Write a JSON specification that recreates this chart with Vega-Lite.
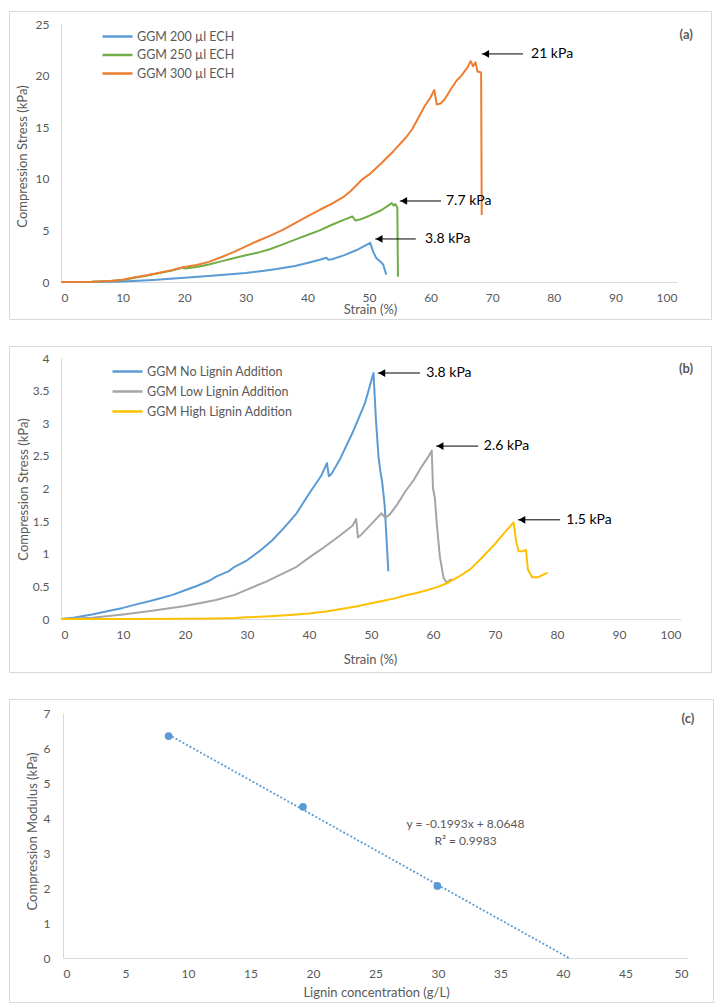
{
  "$schema": "https://vega.github.io/schema/vega-lite/v6.json",
  "padding": {"left": 8, "top": 10, "right": 4, "bottom": 4},
  "spacing": 25,
  "config": {
    "font": "Lato",
    "view": {"stroke": "#d9d9d9", "strokeWidth": 1},
    "axis": {"grid": false, "ticks": false, "tickSize": 0, "domainColor": "#d9d9d9", "domainWidth": 1, "labelColor": "#595959", "titleColor": "#595959", "labelFontSize": 12, "titleFontSize": 13, "titleFontWeight": "normal", "labelFont": "Lato", "titleFont": "Lato"},
    "legend": {"labelFont": "Lato", "labelFontSize": 12.5, "labelColor": "#595959"}
  },
  "resolve": {"scale": {"color": "independent"}, "legend": {"color": "independent"}},
  "datasets": {
    "a": [
      {"s":0,"v":0,"c":"GGM 200 µl ECH"},{"s":5,"v":0.01,"c":"GGM 200 µl ECH"},{"s":10,"v":0.05,"c":"GGM 200 µl ECH"},{"s":15,"v":0.2,"c":"GGM 200 µl ECH"},{"s":20,"v":0.4,"c":"GGM 200 µl ECH"},{"s":25,"v":0.62,"c":"GGM 200 µl ECH"},{"s":30,"v":0.88,"c":"GGM 200 µl ECH"},{"s":33,"v":1.08,"c":"GGM 200 µl ECH"},{"s":35,"v":1.25,"c":"GGM 200 µl ECH"},{"s":38,"v":1.55,"c":"GGM 200 µl ECH"},{"s":40,"v":1.85,"c":"GGM 200 µl ECH"},{"s":42,"v":2.15,"c":"GGM 200 µl ECH"},{"s":43.1,"v":2.35,"c":"GGM 200 µl ECH"},{"s":43.4,"v":2.15,"c":"GGM 200 µl ECH"},{"s":44,"v":2.2,"c":"GGM 200 µl ECH"},{"s":46,"v":2.6,"c":"GGM 200 µl ECH"},{"s":48,"v":3.1,"c":"GGM 200 µl ECH"},{"s":50.2,"v":3.8,"c":"GGM 200 µl ECH"},{"s":50.7,"v":2.9,"c":"GGM 200 µl ECH"},{"s":51.2,"v":2.3,"c":"GGM 200 µl ECH"},{"s":51.8,"v":2.0,"c":"GGM 200 µl ECH"},{"s":52.3,"v":1.7,"c":"GGM 200 µl ECH"},{"s":52.8,"v":0.7,"c":"GGM 200 µl ECH"},
      {"s":0,"v":0,"c":"GGM 250 µl ECH"},{"s":5,"v":0.03,"c":"GGM 250 µl ECH"},{"s":8,"v":0.1,"c":"GGM 250 µl ECH"},{"s":10,"v":0.2,"c":"GGM 250 µl ECH"},{"s":12,"v":0.42,"c":"GGM 250 µl ECH"},{"s":14,"v":0.62,"c":"GGM 250 µl ECH"},{"s":16,"v":0.88,"c":"GGM 250 µl ECH"},{"s":18,"v":1.12,"c":"GGM 250 µl ECH"},{"s":19.8,"v":1.4,"c":"GGM 250 µl ECH"},{"s":20.2,"v":1.3,"c":"GGM 250 µl ECH"},{"s":22,"v":1.45,"c":"GGM 250 µl ECH"},{"s":24,"v":1.7,"c":"GGM 250 µl ECH"},{"s":26,"v":2.0,"c":"GGM 250 µl ECH"},{"s":28,"v":2.3,"c":"GGM 250 µl ECH"},{"s":30,"v":2.6,"c":"GGM 250 µl ECH"},{"s":32,"v":2.85,"c":"GGM 250 µl ECH"},{"s":34,"v":3.2,"c":"GGM 250 µl ECH"},{"s":36,"v":3.65,"c":"GGM 250 µl ECH"},{"s":38,"v":4.1,"c":"GGM 250 µl ECH"},{"s":40,"v":4.55,"c":"GGM 250 µl ECH"},{"s":42,"v":5.0,"c":"GGM 250 µl ECH"},{"s":44,"v":5.55,"c":"GGM 250 µl ECH"},{"s":46,"v":6.05,"c":"GGM 250 µl ECH"},{"s":47.3,"v":6.35,"c":"GGM 250 µl ECH"},{"s":47.8,"v":5.95,"c":"GGM 250 µl ECH"},{"s":48.5,"v":6.05,"c":"GGM 250 µl ECH"},{"s":50,"v":6.4,"c":"GGM 250 µl ECH"},{"s":52,"v":6.95,"c":"GGM 250 µl ECH"},{"s":53.7,"v":7.65,"c":"GGM 250 µl ECH"},{"s":54.0,"v":7.4,"c":"GGM 250 µl ECH"},{"s":54.3,"v":7.55,"c":"GGM 250 µl ECH"},{"s":54.6,"v":7.2,"c":"GGM 250 µl ECH"},{"s":54.7,"v":0.5,"c":"GGM 250 µl ECH"},
      {"s":0,"v":0,"c":"GGM 300 µl ECH"},{"s":5,"v":0.03,"c":"GGM 300 µl ECH"},{"s":8,"v":0.1,"c":"GGM 300 µl ECH"},{"s":10,"v":0.22,"c":"GGM 300 µl ECH"},{"s":12,"v":0.45,"c":"GGM 300 µl ECH"},{"s":14,"v":0.65,"c":"GGM 300 µl ECH"},{"s":16,"v":0.9,"c":"GGM 300 µl ECH"},{"s":18,"v":1.15,"c":"GGM 300 µl ECH"},{"s":20,"v":1.45,"c":"GGM 300 µl ECH"},{"s":22,"v":1.65,"c":"GGM 300 µl ECH"},{"s":24,"v":1.95,"c":"GGM 300 µl ECH"},{"s":26,"v":2.4,"c":"GGM 300 µl ECH"},{"s":28,"v":2.9,"c":"GGM 300 µl ECH"},{"s":30,"v":3.45,"c":"GGM 300 µl ECH"},{"s":32,"v":4.0,"c":"GGM 300 µl ECH"},{"s":34,"v":4.5,"c":"GGM 300 µl ECH"},{"s":36,"v":5.05,"c":"GGM 300 µl ECH"},{"s":38,"v":5.7,"c":"GGM 300 µl ECH"},{"s":40,"v":6.35,"c":"GGM 300 µl ECH"},{"s":42,"v":7.0,"c":"GGM 300 µl ECH"},{"s":44,"v":7.6,"c":"GGM 300 µl ECH"},{"s":46,"v":8.3,"c":"GGM 300 µl ECH"},{"s":47,"v":8.8,"c":"GGM 300 µl ECH"},{"s":48,"v":9.4,"c":"GGM 300 µl ECH"},{"s":49,"v":10.0,"c":"GGM 300 µl ECH"},{"s":50,"v":10.4,"c":"GGM 300 µl ECH"},{"s":52,"v":11.5,"c":"GGM 300 µl ECH"},{"s":54,"v":12.7,"c":"GGM 300 µl ECH"},{"s":56,"v":14.0,"c":"GGM 300 µl ECH"},{"s":57,"v":14.8,"c":"GGM 300 µl ECH"},{"s":58,"v":15.9,"c":"GGM 300 µl ECH"},{"s":59,"v":17.0,"c":"GGM 300 µl ECH"},{"s":60,"v":17.9,"c":"GGM 300 µl ECH"},{"s":60.6,"v":18.6,"c":"GGM 300 µl ECH"},{"s":61.0,"v":17.2,"c":"GGM 300 µl ECH"},{"s":61.6,"v":17.3,"c":"GGM 300 µl ECH"},{"s":62.3,"v":17.7,"c":"GGM 300 µl ECH"},{"s":63.2,"v":18.6,"c":"GGM 300 µl ECH"},{"s":64.2,"v":19.5,"c":"GGM 300 µl ECH"},{"s":65.0,"v":20.0,"c":"GGM 300 µl ECH"},{"s":66.0,"v":20.8,"c":"GGM 300 µl ECH"},{"s":66.5,"v":21.4,"c":"GGM 300 µl ECH"},{"s":66.9,"v":20.9,"c":"GGM 300 µl ECH"},{"s":67.3,"v":21.3,"c":"GGM 300 µl ECH"},{"s":67.6,"v":20.4,"c":"GGM 300 µl ECH"},{"s":68.2,"v":20.3,"c":"GGM 300 µl ECH"},{"s":68.3,"v":6.5,"c":"GGM 300 µl ECH"}
    ],
    "annA": [{"s":68.3,"s2":75.0,"v":22.1},{"s":55.0,"s2":61.7,"v":7.85},{"s":51.0,"s2":57.6,"v":4.17}],
    "txtA": [{"s":76.3,"v":22.1,"t":"21 kPa"},{"s":62.5,"v":7.85,"t":"7.7 kPa"},{"s":59.1,"v":4.17,"t":"3.8 kPa"}],
    "labA": [{"s":101.5,"v":23.9,"t":"(a)"}],
    "b": [
      {"s":0,"v":0,"c":"GGM No Lignin Addition"},{"s":2,"v":0.02,"c":"GGM No Lignin Addition"},{"s":5,"v":0.07,"c":"GGM No Lignin Addition"},{"s":8,"v":0.13,"c":"GGM No Lignin Addition"},{"s":10,"v":0.17,"c":"GGM No Lignin Addition"},{"s":12,"v":0.22,"c":"GGM No Lignin Addition"},{"s":15,"v":0.29,"c":"GGM No Lignin Addition"},{"s":18,"v":0.37,"c":"GGM No Lignin Addition"},{"s":20,"v":0.44,"c":"GGM No Lignin Addition"},{"s":22,"v":0.51,"c":"GGM No Lignin Addition"},{"s":24,"v":0.59,"c":"GGM No Lignin Addition"},{"s":25,"v":0.65,"c":"GGM No Lignin Addition"},{"s":27,"v":0.73,"c":"GGM No Lignin Addition"},{"s":28,"v":0.8,"c":"GGM No Lignin Addition"},{"s":30,"v":0.9,"c":"GGM No Lignin Addition"},{"s":32,"v":1.04,"c":"GGM No Lignin Addition"},{"s":34,"v":1.2,"c":"GGM No Lignin Addition"},{"s":36,"v":1.4,"c":"GGM No Lignin Addition"},{"s":38,"v":1.62,"c":"GGM No Lignin Addition"},{"s":40,"v":1.92,"c":"GGM No Lignin Addition"},{"s":42,"v":2.2,"c":"GGM No Lignin Addition"},{"s":42.9,"v":2.39,"c":"GGM No Lignin Addition"},{"s":43.2,"v":2.19,"c":"GGM No Lignin Addition"},{"s":43.6,"v":2.22,"c":"GGM No Lignin Addition"},{"s":45,"v":2.45,"c":"GGM No Lignin Addition"},{"s":47,"v":2.85,"c":"GGM No Lignin Addition"},{"s":49,"v":3.3,"c":"GGM No Lignin Addition"},{"s":50.4,"v":3.77,"c":"GGM No Lignin Addition"},{"s":50.8,"v":3.05,"c":"GGM No Lignin Addition"},{"s":51.2,"v":2.5,"c":"GGM No Lignin Addition"},{"s":51.5,"v":2.27,"c":"GGM No Lignin Addition"},{"s":51.8,"v":2.1,"c":"GGM No Lignin Addition"},{"s":52.2,"v":1.75,"c":"GGM No Lignin Addition"},{"s":52.8,"v":0.73,"c":"GGM No Lignin Addition"},
      {"s":0,"v":0,"c":"GGM Low Lignin Addition"},{"s":5,"v":0.02,"c":"GGM Low Lignin Addition"},{"s":10,"v":0.07,"c":"GGM Low Lignin Addition"},{"s":15,"v":0.13,"c":"GGM Low Lignin Addition"},{"s":20,"v":0.2,"c":"GGM Low Lignin Addition"},{"s":25,"v":0.29,"c":"GGM Low Lignin Addition"},{"s":28,"v":0.37,"c":"GGM Low Lignin Addition"},{"s":30,"v":0.45,"c":"GGM Low Lignin Addition"},{"s":33,"v":0.57,"c":"GGM Low Lignin Addition"},{"s":35,"v":0.66,"c":"GGM Low Lignin Addition"},{"s":38,"v":0.8,"c":"GGM Low Lignin Addition"},{"s":40,"v":0.94,"c":"GGM Low Lignin Addition"},{"s":42,"v":1.07,"c":"GGM Low Lignin Addition"},{"s":45,"v":1.28,"c":"GGM Low Lignin Addition"},{"s":47,"v":1.43,"c":"GGM Low Lignin Addition"},{"s":47.6,"v":1.53,"c":"GGM Low Lignin Addition"},{"s":47.9,"v":1.25,"c":"GGM Low Lignin Addition"},{"s":48.5,"v":1.3,"c":"GGM Low Lignin Addition"},{"s":50,"v":1.45,"c":"GGM Low Lignin Addition"},{"s":51.7,"v":1.62,"c":"GGM Low Lignin Addition"},{"s":52.3,"v":1.55,"c":"GGM Low Lignin Addition"},{"s":53,"v":1.6,"c":"GGM Low Lignin Addition"},{"s":54.2,"v":1.75,"c":"GGM Low Lignin Addition"},{"s":55.5,"v":1.95,"c":"GGM Low Lignin Addition"},{"s":56.9,"v":2.13,"c":"GGM Low Lignin Addition"},{"s":58.2,"v":2.34,"c":"GGM Low Lignin Addition"},{"s":59.2,"v":2.48,"c":"GGM Low Lignin Addition"},{"s":59.8,"v":2.58,"c":"GGM Low Lignin Addition"},{"s":60.0,"v":2.0,"c":"GGM Low Lignin Addition"},{"s":60.3,"v":1.85,"c":"GGM Low Lignin Addition"},{"s":60.6,"v":1.47,"c":"GGM Low Lignin Addition"},{"s":61.1,"v":0.96,"c":"GGM Low Lignin Addition"},{"s":61.7,"v":0.63,"c":"GGM Low Lignin Addition"},{"s":62.2,"v":0.56,"c":"GGM Low Lignin Addition"},{"s":62.8,"v":0.6,"c":"GGM Low Lignin Addition"},{"s":63.3,"v":0.6,"c":"GGM Low Lignin Addition"},
      {"s":0,"v":0,"c":"GGM High Lignin Addition"},{"s":10,"v":0,"c":"GGM High Lignin Addition"},{"s":20,"v":0.003,"c":"GGM High Lignin Addition"},{"s":25,"v":0.008,"c":"GGM High Lignin Addition"},{"s":28,"v":0.015,"c":"GGM High Lignin Addition"},{"s":30,"v":0.025,"c":"GGM High Lignin Addition"},{"s":33,"v":0.04,"c":"GGM High Lignin Addition"},{"s":35,"v":0.05,"c":"GGM High Lignin Addition"},{"s":38,"v":0.07,"c":"GGM High Lignin Addition"},{"s":40,"v":0.085,"c":"GGM High Lignin Addition"},{"s":43,"v":0.12,"c":"GGM High Lignin Addition"},{"s":45,"v":0.15,"c":"GGM High Lignin Addition"},{"s":48,"v":0.2,"c":"GGM High Lignin Addition"},{"s":50,"v":0.24,"c":"GGM High Lignin Addition"},{"s":52,"v":0.28,"c":"GGM High Lignin Addition"},{"s":54,"v":0.32,"c":"GGM High Lignin Addition"},{"s":55.5,"v":0.36,"c":"GGM High Lignin Addition"},{"s":57,"v":0.39,"c":"GGM High Lignin Addition"},{"s":59,"v":0.44,"c":"GGM High Lignin Addition"},{"s":61,"v":0.5,"c":"GGM High Lignin Addition"},{"s":62.5,"v":0.56,"c":"GGM High Lignin Addition"},{"s":64,"v":0.64,"c":"GGM High Lignin Addition"},{"s":66,"v":0.76,"c":"GGM High Lignin Addition"},{"s":68,"v":0.95,"c":"GGM High Lignin Addition"},{"s":70,"v":1.15,"c":"GGM High Lignin Addition"},{"s":71.5,"v":1.32,"c":"GGM High Lignin Addition"},{"s":73,"v":1.48,"c":"GGM High Lignin Addition"},{"s":73.4,"v":1.2,"c":"GGM High Lignin Addition"},{"s":73.8,"v":1.04,"c":"GGM High Lignin Addition"},{"s":74.5,"v":1.04,"c":"GGM High Lignin Addition"},{"s":75.0,"v":1.06,"c":"GGM High Lignin Addition"},{"s":75.3,"v":0.76,"c":"GGM High Lignin Addition"},{"s":76.0,"v":0.64,"c":"GGM High Lignin Addition"},{"s":77.0,"v":0.64,"c":"GGM High Lignin Addition"},{"s":77.8,"v":0.68,"c":"GGM High Lignin Addition"},{"s":78.5,"v":0.71,"c":"GGM High Lignin Addition"}
    ],
    "annB": [{"s":51.1,"s2":57.9,"v":3.77},{"s":60.5,"s2":67.3,"v":2.65},{"s":73.7,"s2":80.5,"v":1.52}],
    "txtB": [{"s":58.9,"v":3.77,"t":"3.8 kPa"},{"s":68.2,"v":2.65,"t":"2.6 kPa"},{"s":81.5,"v":1.52,"t":"1.5 kPa"}],
    "labB": [{"s":100.8,"v":3.83,"t":"(b)"}],
    "c": [{"x":8.45,"y":6.34},{"x":19.2,"y":4.32},{"x":29.95,"y":2.06}],
    "trend": [{"x":8.45,"y":6.38},{"x":40.47,"y":0}],
    "txtC": [{"x":32.2,"y":3.83,"t":"y = -0.1993x + 8.0648"},{"x":32.2,"y":3.34,"t":"R² = 0.9983"}],
    "labC": [{"x":50.0,"y":6.83,"t":"(c)"}]
  },
  "vconcat": [
    {
      "width": 702, "height": 308,
      "layer": [
        {
          "data": {"name": "a"},
          "mark": {"type": "line", "strokeWidth": 2, "strokeJoin": "round"},
          "encoding": {
            "x": {"field": "s", "type": "quantitative", "title": "Strain (%)",
                  "scale": {"domain": [0, 100], "range": [52, 668], "nice": false, "zero": false},
                  "axis": {"values": [0,10,20,30,40,50,60,70,80,90,100], "offset": -37, "labelPadding": 10, "titleX": 361, "titleY": 27, "titleBaseline": "middle"}},
            "y": {"field": "v", "type": "quantitative", "title": "Compression Stress (kPa)",
                  "scale": {"domain": [0, 25], "range": [271, 13], "nice": false, "zero": false},
                  "axis": {"values": [0,5,10,15,20,25], "offset": -52, "labelPadding": 12, "titleX": -39, "titleY": 145, "titleBaseline": "middle"}},
            "color": {"field": "c", "type": "nominal",
                      "scale": {"domain": ["GGM 200 µl ECH", "GGM 250 µl ECH", "GGM 300 µl ECH"], "range": ["#5B9BD5", "#70AD47", "#ED7D31"]},
                      "legend": {"orient": "none", "legendX": 102, "legendY": 19, "title": null, "symbolType": "M-3,0H3", "symbolSize": 100, "symbolStrokeWidth": 2.5, "labelOffset": 13, "rowPadding": 5.5, "padding": 0}}
          }
        },
        {
          "data": {"name": "annA"},
          "mark": {"type": "rule", "color": "#000000", "strokeWidth": 1},
          "encoding": {"x": {"field": "s", "type": "quantitative"}, "x2": {"field": "s2"}, "y": {"field": "v", "type": "quantitative"}}
        },
        {
          "data": {"name": "annA"},
          "mark": {"type": "point", "shape": "triangle-left", "filled": true, "color": "#000000", "opacity": 1, "size": 60, "xOffset": 4},
          "encoding": {"x": {"field": "s", "type": "quantitative"}, "y": {"field": "v", "type": "quantitative"}}
        },
        {
          "data": {"name": "txtA"},
          "mark": {"type": "text", "align": "left", "baseline": "middle", "fontSize": 14, "color": "#000000"},
          "encoding": {"x": {"field": "s", "type": "quantitative"}, "y": {"field": "v", "type": "quantitative"}, "text": {"field": "t"}}
        },
        {
          "data": {"name": "labA"},
          "mark": {"type": "text", "align": "center", "baseline": "middle", "fontSize": 13, "fontWeight": "bold", "color": "#595959"},
          "encoding": {"x": {"field": "s", "type": "quantitative"}, "y": {"field": "v", "type": "quantitative"}, "text": {"field": "t"}}
        }
      ]
    },
    {
      "width": 702, "height": 326,
      "layer": [
        {
          "data": {"name": "b"},
          "mark": {"type": "line", "strokeWidth": 2, "strokeJoin": "round"},
          "encoding": {
            "x": {"field": "s", "type": "quantitative", "title": "Strain (%)",
                  "scale": {"domain": [0, 100], "range": [52, 672], "nice": false, "zero": false},
                  "axis": {"values": [0,10,20,30,40,50,60,70,80,90,100], "offset": -53, "labelPadding": 10, "titleX": 361, "titleY": 40, "titleBaseline": "middle"}},
            "y": {"field": "v", "type": "quantitative", "title": "Compression Stress (kPa)",
                  "scale": {"domain": [0, 4], "range": [273, 12], "nice": false, "zero": false},
                  "axis": {"values": [0,0.5,1,1.5,2,2.5,3,3.5,4], "format": "~g", "offset": -52, "labelPadding": 12, "titleX": -38, "titleY": 143, "titleBaseline": "middle"}},
            "color": {"field": "c", "type": "nominal",
                      "scale": {"domain": ["GGM No Lignin Addition", "GGM Low Lignin Addition", "GGM High Lignin Addition"], "range": ["#5B9BD5", "#A5A5A5", "#FFC000"]},
                      "legend": {"orient": "none", "legendX": 112, "legendY": 19, "title": null, "symbolType": "M-3,0H3", "symbolSize": 100, "symbolStrokeWidth": 2.5, "labelOffset": 13, "rowPadding": 7, "padding": 0}}
          }
        },
        {
          "data": {"name": "annB"},
          "mark": {"type": "rule", "color": "#000000", "strokeWidth": 1},
          "encoding": {"x": {"field": "s", "type": "quantitative"}, "x2": {"field": "s2"}, "y": {"field": "v", "type": "quantitative"}}
        },
        {
          "data": {"name": "annB"},
          "mark": {"type": "point", "shape": "triangle-left", "filled": true, "color": "#000000", "opacity": 1, "size": 60, "xOffset": 4},
          "encoding": {"x": {"field": "s", "type": "quantitative"}, "y": {"field": "v", "type": "quantitative"}}
        },
        {
          "data": {"name": "txtB"},
          "mark": {"type": "text", "align": "left", "baseline": "middle", "fontSize": 14, "color": "#000000"},
          "encoding": {"x": {"field": "s", "type": "quantitative"}, "y": {"field": "v", "type": "quantitative"}, "text": {"field": "t"}}
        },
        {
          "data": {"name": "labB"},
          "mark": {"type": "text", "align": "center", "baseline": "middle", "fontSize": 13, "fontWeight": "bold", "color": "#595959"},
          "encoding": {"x": {"field": "s", "type": "quantitative"}, "y": {"field": "v", "type": "quantitative"}, "text": {"field": "t"}}
        }
      ]
    },
    {
      "width": 704, "height": 303,
      "layer": [
        {
          "data": {"name": "trend"},
          "mark": {"type": "line", "strokeWidth": 1.8, "strokeDash": [2, 2], "color": "#5B9BD5"},
          "encoding": {
            "x": {"field": "x", "type": "quantitative", "title": "Lignin concentration (g/L)",
                  "scale": {"domain": [0, 50], "range": [54, 679], "nice": false, "zero": false},
                  "axis": {"values": [0,5,10,15,20,25,30,35,40,45,50], "offset": -44, "labelPadding": 10, "titleX": 367, "titleY": 34, "titleBaseline": "middle"}},
            "y": {"field": "y", "type": "quantitative", "title": "Compression Modulus (kPa)",
                  "scale": {"domain": [0, 7], "range": [259, 14], "nice": false, "zero": false},
                  "axis": {"values": [0,1,2,3,4,5,6,7], "offset": -54, "labelPadding": 13, "titleX": -31, "titleY": 132, "titleBaseline": "middle"}}
          }
        },
        {
          "data": {"name": "c"},
          "mark": {"type": "point", "shape": "circle", "filled": true, "color": "#5B9BD5", "opacity": 1, "size": 60},
          "encoding": {"x": {"field": "x", "type": "quantitative"}, "y": {"field": "y", "type": "quantitative"}}
        },
        {
          "data": {"name": "txtC"},
          "mark": {"type": "text", "align": "center", "baseline": "middle", "fontSize": 12, "color": "#595959"},
          "encoding": {"x": {"field": "x", "type": "quantitative"}, "y": {"field": "y", "type": "quantitative"}, "text": {"field": "t"}}
        },
        {
          "data": {"name": "labC"},
          "mark": {"type": "text", "align": "center", "baseline": "middle", "fontSize": 13, "fontWeight": "bold", "color": "#595959"},
          "encoding": {"x": {"field": "x", "type": "quantitative"}, "y": {"field": "y", "type": "quantitative"}, "text": {"field": "t"}}
        }
      ]
    }
  ]
}
